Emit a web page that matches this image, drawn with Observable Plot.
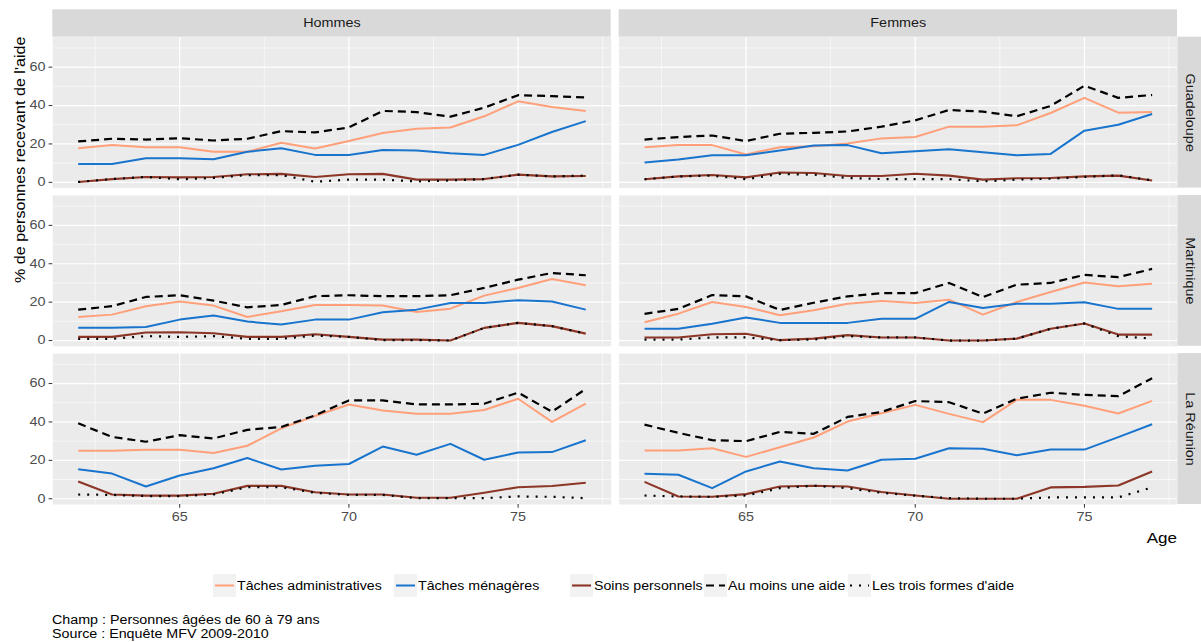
<!DOCTYPE html>
<html><head><meta charset="utf-8">
<script src="https://cdn.jsdelivr.net/npm/d3@7"></script>
<script src="https://cdn.jsdelivr.net/npm/@observablehq/plot@0.6"></script>
<style>
body{margin:0;background:#fff;font-family:'Liberation Sans',Arial,sans-serif;}
#wrap{position:relative;width:1201px;height:642px;overflow:hidden;background:#fff;}
#plot{position:absolute;left:0;top:0;}
#legend{position:absolute;top:574px;left:0;width:1201px;height:23px;}
.item{position:absolute;top:0;height:23px;display:flex;align-items:center;font-size:12px;color:#000;white-space:nowrap;}
.item span{display:inline-block;transform:scaleX(1.18);transform-origin:left center;}
.key{width:23px;height:23px;background:#F2F2F2;margin-right:1px;}
#caption{position:absolute;left:52px;top:613px;font-size:12px;line-height:14px;color:#000;transform:scaleX(1.19);transform-origin:left top;white-space:nowrap;}
</style></head>
<body><div id="wrap"><div id="plot"></div><div id="legend"></div><div id="caption"></div></div>
<script>
// ---- data ----
const ages = [62, 63, 64, 65, 66, 67, 68, 69, 70, 71, 72, 73, 74, 75, 76, 77];
const sexes = ["Hommes", "Femmes"];
const regions = ["Guadeloupe", "Martinique", "La Réunion"];
const seriesNames = ["Tâches administratives", "Tâches ménagères", "Soins personnels", "Au moins une aide", "Les trois formes d'aide"];
const seriesColors = ["#FFA07A", "#1874CD", "#8B3626", "#000000", "#000000"];
const xTicks = [65, 70, 75];
const yTicks = [0, 20, 40, 60];
const yTitle = "% de personnes recevant de l'aide";
const xTitle = "Age";
const captionLines = ["Champ : Personnes âgées de 60 à 79 ans", "Source : Enquête MFV 2009-2010"];

// Guadeloupe – Hommes
const guaH_admin = [17.8, 19.4, 18.3, 18.3, 15.9, 15.9, 20.6, 17.6, 21.5, 25.7, 27.9, 28.6, 34.4, 42.2, 39.3, 37.2];
const guaH_menag = [9.6, 9.6, 12.6, 12.6, 12.0, 15.9, 17.8, 14.3, 14.3, 16.8, 16.6, 15.2, 14.3, 19.5, 26.2, 31.9];
const guaH_soins = [0.2, 1.7, 2.8, 2.6, 2.8, 4.2, 4.4, 2.8, 4.2, 4.4, 1.4, 1.4, 1.7, 4.0, 3.1, 3.3];
const guaH_auMoins = [21.3, 22.7, 22.3, 23.0, 21.8, 22.7, 26.7, 26.0, 28.6, 37.2, 36.6, 34.2, 38.9, 45.4, 44.9, 44.2];
const guaH_trois = [0.2, 1.7, 2.8, 1.6, 2.3, 3.8, 3.8, 0.3, 1.4, 1.4, 0.5, 1.0, 1.7, 4.0, 3.1, 3.5];
// Guadeloupe – Femmes
const guaF_admin = [18.3, 19.4, 19.4, 14.5, 18.3, 18.8, 20.2, 22.9, 23.6, 29.0, 29.0, 29.7, 36.1, 44.0, 36.3, 36.6];
const guaF_menag = [10.3, 11.9, 14.1, 14.1, 16.6, 19.2, 19.4, 15.2, 16.2, 17.3, 15.7, 14.1, 14.8, 26.9, 30.0, 35.6];
const guaF_soins = [1.6, 3.1, 3.8, 2.6, 5.1, 4.9, 3.3, 3.3, 4.5, 3.5, 1.4, 2.1, 2.3, 3.1, 3.5, 1.0];
const guaF_auMoins = [22.3, 23.6, 24.4, 21.5, 25.3, 25.8, 26.5, 29.0, 32.3, 37.7, 36.8, 34.4, 39.8, 50.3, 44.0, 45.5];
const guaF_trois = [1.6, 3.1, 3.5, 1.6, 4.4, 4.0, 2.3, 1.7, 1.7, 1.7, 0.5, 1.4, 1.9, 2.8, 3.7, 1.0];
// Martinique – Hommes
const marH_admin = [12.3, 13.5, 17.9, 20.3, 18.2, 12.3, 15.3, 18.5, 18.5, 18.2, 14.9, 16.6, 23.4, 27.4, 32.1, 28.8];
const marH_menag = [6.6, 6.6, 7.1, 10.9, 13.0, 9.9, 8.3, 10.9, 10.9, 14.7, 16.1, 19.6, 19.6, 21.0, 20.3, 16.1];
const marH_soins = [1.9, 1.9, 4.2, 4.3, 3.8, 1.9, 1.9, 3.3, 1.9, 0.5, 0.5, 0.0, 6.6, 9.2, 7.5, 3.6];
const marH_auMoins = [16.1, 17.9, 22.7, 23.6, 20.8, 17.3, 18.5, 23.1, 23.6, 23.1, 23.1, 23.6, 27.4, 31.7, 35.2, 34.0];
const marH_trois = [0.9, 0.9, 2.3, 1.9, 2.3, 0.9, 0.9, 2.6, 1.9, 0.2, 0.2, 0.0, 6.6, 9.2, 7.5, 3.6];
// Martinique – Femmes
const marF_admin = [9.5, 14.0, 20.1, 17.5, 13.2, 15.8, 19.2, 20.6, 19.6, 21.3, 13.5, 20.1, 25.3, 30.2, 28.3, 29.6];
const marF_menag = [6.1, 6.1, 8.8, 12.0, 9.2, 9.2, 9.2, 11.3, 11.3, 20.1, 17.0, 19.2, 19.2, 19.9, 16.5, 16.5];
const marF_soins = [1.6, 1.6, 3.3, 3.5, 0.2, 1.0, 2.8, 1.6, 1.6, 0.0, 0.0, 1.0, 6.1, 8.9, 3.1, 3.1];
const marF_auMoins = [13.9, 16.5, 23.7, 23.0, 15.9, 19.7, 23.0, 24.7, 24.7, 30.0, 22.6, 29.1, 30.0, 34.2, 33.0, 37.3];
const marF_trois = [0.5, 0.5, 1.6, 1.6, 0.2, 0.5, 2.3, 1.6, 1.6, 0.0, 0.0, 1.0, 6.1, 8.9, 2.3, 1.0];
// La Réunion – Hommes
const reuH_admin = [25.0, 25.0, 25.5, 25.5, 23.8, 27.6, 36.7, 43.1, 49.1, 46.0, 44.3, 44.3, 46.2, 52.1, 40.0, 49.5];
const reuH_menag = [15.3, 13.1, 6.4, 12.1, 15.9, 21.2, 15.2, 17.2, 18.1, 27.2, 22.9, 28.6, 20.3, 24.1, 24.3, 30.5];
const reuH_soins = [9.0, 2.2, 1.6, 1.6, 2.6, 6.7, 6.7, 3.4, 2.2, 2.2, 0.5, 0.5, 3.1, 6.0, 6.6, 8.3];
const reuH_auMoins = [39.3, 32.2, 29.7, 33.1, 31.4, 35.9, 37.4, 43.4, 51.2, 51.2, 49.1, 49.1, 49.5, 55.3, 45.3, 57.2];
const reuH_trois = [2.2, 2.0, 1.4, 1.4, 2.2, 6.0, 6.0, 3.1, 2.0, 2.0, 0.3, 0.3, 0.3, 1.2, 1.0, 0.3];
// La Réunion – Femmes
const reuF_admin = [25.1, 25.1, 26.3, 21.8, 26.8, 31.9, 40.2, 44.5, 48.9, 44.2, 39.9, 51.5, 51.5, 48.4, 44.4, 51.0];
const reuF_menag = [13.0, 12.5, 5.5, 14.2, 19.4, 15.9, 14.7, 20.3, 20.8, 26.3, 26.0, 22.7, 25.6, 25.6, 32.1, 38.8];
const reuF_soins = [8.8, 1.2, 1.0, 2.4, 6.4, 6.8, 6.4, 3.5, 1.7, 0.0, 0.0, 0.0, 5.9, 6.2, 6.9, 14.2];
const reuF_auMoins = [38.6, 34.3, 30.5, 30.0, 34.8, 33.8, 42.6, 45.2, 50.9, 50.3, 44.3, 52.1, 55.2, 54.1, 53.4, 62.8];
const reuF_trois = [1.7, 1.2, 1.0, 1.7, 5.5, 6.8, 5.5, 3.1, 1.6, 0.3, 0.0, 0.0, 0.7, 0.7, 0.7, 5.9];

// ---- long table ----
const panels = [
  ["Guadeloupe", "Hommes", [guaH_admin, guaH_menag, guaH_soins, guaH_auMoins, guaH_trois]],
  ["Guadeloupe", "Femmes", [guaF_admin, guaF_menag, guaF_soins, guaF_auMoins, guaF_trois]],
  ["Martinique", "Hommes", [marH_admin, marH_menag, marH_soins, marH_auMoins, marH_trois]],
  ["Martinique", "Femmes", [marF_admin, marF_menag, marF_soins, marF_auMoins, marF_trois]],
  ["La Réunion", "Hommes", [reuH_admin, reuH_menag, reuH_soins, reuH_auMoins, reuH_trois]],
  ["La Réunion", "Femmes", [reuF_admin, reuF_menag, reuF_soins, reuF_auMoins, reuF_trois]]
];
const rows = [];
for (const [region, sex, arrs] of panels) {
  arrs.forEach((vals, si) => vals.forEach((v, ai) => rows.push({region, sex, series: seriesNames[si], age: ages[ai], value: v})));
}
const topStrips = sexes.map(s => ({sex: s, region: regions[0]}));
const rightStrips = regions.map(r => ({sex: sexes[sexes.length - 1], region: r}));

// ---- styles ----
const seriesWidth = [2, 2, 2.1, 2.2, 2.2];
const seriesDash = [undefined, undefined, undefined, "8,5", "2,7"];
const xDom = [61.25, 77.75], yDom = [-3.0, 75.6];
const minorX = [62.5, 67.5, 72.5, 77.5], minorY = [10, 30, 50, 70];
const font = "'Liberation Sans', Arial, sans-serif";

const chart = Plot.plot({
  width: 1201, height: 550,
  marginTop: 36.7, marginRight: 24, marginBottom: 46, marginLeft: 52.3,
  style: {fontFamily: font, fontSize: "12px", background: "transparent", overflow: "visible"},
  x: {domain: xDom},
  y: {domain: yDom},
  fx: {domain: sexes, paddingInner: 0.0141, paddingOuter: 0, round: false, axis: null, label: null},
  fy: {domain: regions, paddingInner: 0.0461, paddingOuter: 0, round: false, axis: null, label: null},
  marks: [
    Plot.frame({fill: "#EBEBEB", stroke: "none"}),
    Plot.ruleY(minorY, {stroke: "white", strokeWidth: 0.6}),
    Plot.ruleX(minorX, {stroke: "white", strokeWidth: 0.6}),
    Plot.ruleY(yTicks, {stroke: "white", strokeWidth: 1.2}),
    Plot.ruleX(xTicks, {stroke: "white", strokeWidth: 1.2}),
    Plot.rect(topStrips, {fx: "sex", fy: "region", y1: yDom[1], y2: yDom[1], insetTop: -27.4, insetBottom: 0, fill: "#D9D9D9"}),
    Plot.rect(rightStrips, {fx: "sex", fy: "region", x1: xDom[1], x2: xDom[1], insetLeft: 0.5, insetRight: -24.5, fill: "#D9D9D9"}),
    Plot.text(topStrips, {fx: "sex", fy: "region", text: "sex", frameAnchor: "top", lineAnchor: "middle", textAnchor: "middle", dy: -13.7, fill: "#1A1A1A", fontSize: 12}),
    Plot.text(rightStrips, {fx: "sex", fy: "region", text: "region", frameAnchor: "right", lineAnchor: "middle", textAnchor: "middle", dx: 12.7, rotate: 90, fill: "#1A1A1A", fontSize: 12}),
    Plot.axisX({ticks: xTicks, tickSize: 3.7, tickPadding: 4.5, stroke: "#333333", fill: "#4D4D4D", label: null, fontSize: 12}),
    Plot.axisY({ticks: yTicks, tickSize: 3.7, tickPadding: 3.7, stroke: "#333333", fill: "#4D4D4D", label: null, fontSize: 12}),
    ...seriesNames.map((s, i) => Plot.line(rows.filter(d => d.series === s), {
      fx: "sex", fy: "region", x: "age", y: "value",
      stroke: seriesColors[i], strokeWidth: seriesWidth[i], strokeDasharray: seriesDash[i],
      strokeLinecap: "butt", strokeLinejoin: "round"
    }))
  ]
});

const svg = d3.select(chart);
// the reference's lettering is wider than tall: stretch text along its own direction
svg.selectAll("text").each(function () {
  const t = this.getAttribute("transform") || "";
  this.setAttribute("transform", t + " scale(1.2,1)");
});
svg.append("text")
  .attr("transform", "translate(25,283) rotate(-90) scale(1.15,1)")
  .attr("text-anchor", "start")
  .attr("font-size", 14).attr("fill", "#000")
  .attr("font-family", font)
  .text(yTitle);
svg.append("text")
  .attr("transform", "translate(1177,543) scale(1.16,1)")
  .attr("text-anchor", "end")
  .attr("font-size", 14.7).attr("fill", "#000")
  .attr("font-family", font)
  .text(xTitle);
document.getElementById("plot").appendChild(chart);

// ---- legend ----
const legendLefts = [213, 394, 570, 704, 848];
const legend = d3.select("#legend");
seriesNames.forEach((s, i) => {
  const item = legend.append("div").attr("class", "item").style("left", legendLefts[i] + "px");
  const key = item.append("svg").attr("class", "key").attr("width", 23).attr("height", 23);
  key.append("rect").attr("width", 23).attr("height", 23).attr("fill", "#F2F2F2");
  key.append("line").attr("x1", 2).attr("x2", 21).attr("y1", 11.5).attr("y2", 11.5)
    .attr("stroke", seriesColors[i]).attr("stroke-width", seriesWidth[i])
    .attr("stroke-dasharray", seriesDash[i] || null);
  item.append("span").text(s);
});

// ---- caption ----
d3.select("#caption").selectAll("div").data(captionLines).join("div").text(d => d);
</script></body></html>
